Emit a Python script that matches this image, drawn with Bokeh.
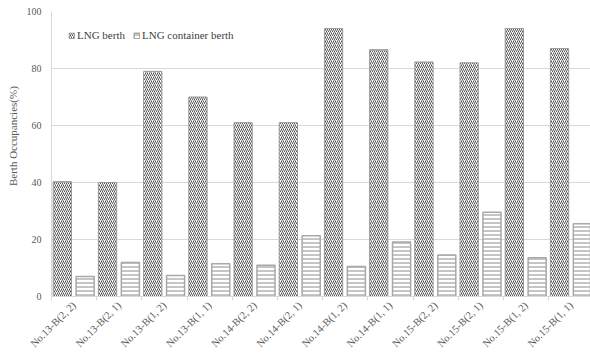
import math
from bokeh.plotting import figure
from bokeh.models import ColumnDataSource, FixedTicker, Legend, LegendItem, Range1d
from bokeh.embed import file_html
from bokeh.resources import INLINE

categories = ["No.13-B(2, 2)", "No.13-B(2, 1)", "No.13-B(1, 2)", "No.13-B(1, 1)",
              "No.14-B(2, 2)", "No.14-B(2, 1)", "No.14-B(1, 2)", "No.14-B(1, 1)",
              "No.15-B(2, 2)", "No.15-B(2, 1)", "No.15-B(1, 2)", "No.15-B(1, 1)"]
lng_berth = [40.3, 40.0, 79.0, 70.0, 61.0, 61.0, 94.0, 86.6, 82.3, 82.0, 94.0, 87.0]
container_berth = [7.0, 11.9, 7.4, 11.5, 11.0, 21.3, 10.5, 19.1, 14.6, 29.6, 13.6, 25.5]
y_ticks = [0, 20, 40, 60, 80, 100]

FONT = "'Liberation Serif'"
n = len(categories)
idx = list(range(n))

src = ColumnDataSource(dict(
    x_lng=[i + 0.24 for i in idx],
    x_con=[i + 0.745 for i in idx],
    lng=lng_berth,
    con=container_berth,
))

p = figure(width=590, height=356, output_backend="svg", toolbar_location=None,
           x_range=Range1d(0, 539 / 45.2), y_range=Range1d(0, 100),
           min_border_left=51, min_border_right=0, min_border_top=11, min_border_bottom=60)
p.outline_line_color = None
p.background_fill_color = "white"
p.border_fill_color = "white"

r1 = p.vbar(x="x_lng", top="lng", width=0.405, source=src,
            fill_color="white", line_color="#9a9a9a", line_width=1,
            hatch_pattern="/", hatch_color="#555555", hatch_scale=4, hatch_weight=1)
r2 = p.vbar(x="x_con", top="con", width=0.40, source=src,
            fill_color="white", line_color="#a8a8a8", line_width=1.5,
            hatch_pattern="-", hatch_color="#8c8c8c", hatch_scale=4, hatch_weight=1)

# grid
p.xgrid.grid_line_color = None
p.ygrid.grid_line_color = "#d9d9d9"
p.ygrid.ticker = FixedTicker(ticks=y_ticks)

# y axis
ya = p.yaxis[0]
ya.ticker = FixedTicker(ticks=y_ticks)
ya.axis_line_color = "#d9d9d9"
ya.major_tick_line_color = None
ya.minor_tick_line_color = None
ya.major_tick_out = 0
ya.major_tick_in = 0
ya.minor_tick_out = 0
ya.minor_tick_in = 0
ya.major_label_standoff = 10
ya.major_label_text_font = FONT
ya.major_label_text_font_size = "10px"
ya.major_label_text_color = "#595959"
ya.axis_label = "\u00a0" * 13 + "Berth Occupancies(%)"
ya.axis_label_standoff = 5
ya.axis_label_text_font = FONT
ya.axis_label_text_font_size = "11px"
ya.axis_label_text_font_style = "normal"
ya.axis_label_text_color = "#595959"

# x axis
xa = p.xaxis[0]
xa.ticker = FixedTicker(ticks=[i + 0.5 for i in idx], minor_ticks=list(range(n + 1)))
xa.major_label_overrides = {i + 0.5: c for i, c in enumerate(categories)}
xa.major_label_orientation = math.pi / 4
xa.major_tick_line_color = None
xa.major_tick_out = 0
xa.major_tick_in = 0
xa.minor_tick_line_color = "#d9d9d9"
xa.minor_tick_out = 4
xa.minor_tick_in = 0
xa.axis_line_color = "#d9d9d9"
xa.major_label_standoff = 3
xa.major_label_text_font = FONT
xa.major_label_text_font_size = "10.5px"
xa.major_label_text_color = "#595959"

legend = Legend(items=[LegendItem(label="LNG berth", renderers=[r1]),
                       LegendItem(label="LNG container berth", renderers=[r2])],
                orientation="horizontal", location=(17, 255),
                margin=0, padding=0, spacing=8,
                glyph_width=7, glyph_height=7, label_standoff=2,
                label_height=12, label_text_font=FONT, label_text_font_size="11px",
                label_text_color="#404040",
                border_line_color=None, background_fill_alpha=0)
p.add_layout(legend)

open("out.html", "w").write(file_html(p, INLINE))
